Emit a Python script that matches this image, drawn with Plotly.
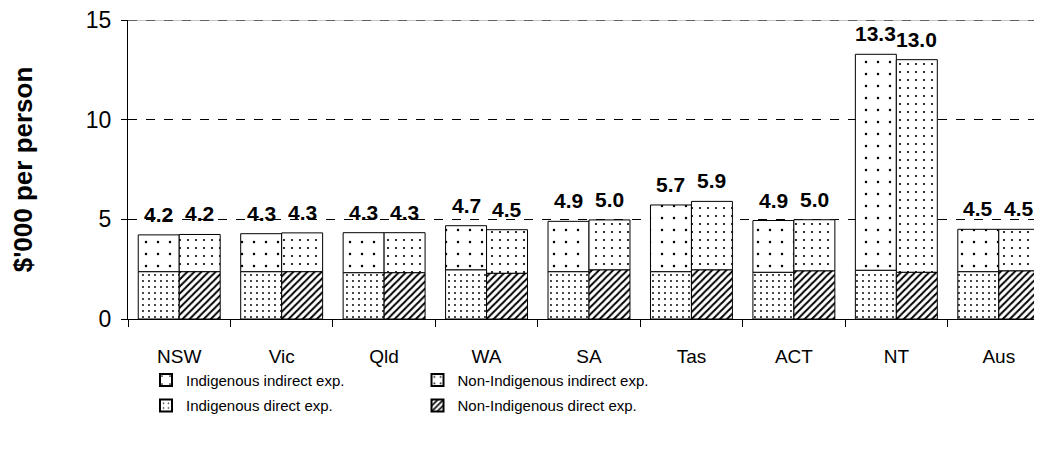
import plotly.graph_objects as go

categories = ["NSW", "Vic", "Qld", "WA", "SA", "Tas", "ACT", "NT", "Aus"]

# $'000 per person
indig_direct = [2.37, 2.37, 2.32, 2.46, 2.37, 2.37, 2.34, 2.44, 2.37]
indig_total = [4.22, 4.28, 4.33, 4.68, 4.90, 5.72, 4.94, 13.28, 4.50]
nonindig_direct = [2.37, 2.37, 2.32, 2.29, 2.46, 2.46, 2.41, 2.34, 2.41]
nonindig_total = [4.24, 4.32, 4.33, 4.48, 4.97, 5.90, 4.98, 13.01, 4.50]

y_ticks = [0, 5, 10, 15]
y_max = 15

indig_indirect = [t - d for t, d in zip(indig_total, indig_direct)]
nonindig_indirect = [t - d for t, d in zip(nonindig_total, nonindig_direct)]

indig_labels = [f"{v:.1f}" for v in indig_total]
nonindig_labels = [f"{v:.1f}" for v in nonindig_total]

ARIAL = "Liberation Sans, Arial, sans-serif"

line = dict(color="black", width=1)

fig = go.Figure()

fig.add_trace(go.Bar(
    x=categories, y=indig_indirect, base=indig_direct,
    name="Indigenous indirect exp.", offsetgroup="I", legend="legend", legendgroup="a",
    marker=dict(color="white", line=line,
                pattern=dict(shape=".", size=12, solidity=0.035,
                             fgcolor="black", bgcolor="white", fillmode="replace")),
))
fig.add_trace(go.Bar(
    x=categories, y=nonindig_indirect, base=nonindig_direct,
    name="Non-Indigenous indirect exp.", offsetgroup="N", legend="legend2", legendgroup="b",
    marker=dict(color="white", line=line,
                pattern=dict(shape=".", size=8, solidity=0.06,
                             fgcolor="black", bgcolor="white", fillmode="replace")),
))
fig.add_trace(go.Bar(
    x=categories, y=indig_direct,
    name="Indigenous direct exp.", offsetgroup="I", legend="legend", legendgroup="c",
    marker=dict(color="white", line=line,
                pattern=dict(shape=".", size=6, solidity=0.08,
                             fgcolor="black", bgcolor="white", fillmode="replace")),
))
fig.add_trace(go.Bar(
    x=categories, y=nonindig_direct,
    name="Non-Indigenous direct exp.", offsetgroup="N", legend="legend2", legendgroup="d",
    marker=dict(color="white", line=line,
                pattern=dict(shape="/", size=5, solidity=0.4,
                             fgcolor="black", bgcolor="white", fillmode="replace")),
))

# value labels above each bar
label_font = dict(family=ARIAL, size=21, color="black", weight="bold")
for cat, tot, lab in zip(categories, indig_total, indig_labels):
    fig.add_annotation(x=cat, y=tot, text=lab, showarrow=False, xref="x", yref="y",
                       xanchor="center", yanchor="bottom", xshift=-20.5, yshift=7,
                       font=label_font)
for cat, tot, lab in zip(categories, nonindig_total, nonindig_labels):
    fig.add_annotation(x=cat, y=tot, text=lab, showarrow=False, xref="x", yref="y",
                       xanchor="center", yanchor="bottom", xshift=20.5, yshift=7,
                       font=label_font)

# top gridline (plotly drops gridlines on the plot edge)
fig.add_shape(type="line", xref="paper", yref="y", x0=0, x1=1, y0=y_max, y1=y_max,
              line=dict(color="#8a8a8a", width=1), layer="above")
fig.add_shape(type="line", xref="paper", yref="y", x0=0, x1=1, y0=y_max, y1=y_max,
              line=dict(color="black", width=1, dash="dash"), layer="above")

legend_common = dict(
    orientation="v", yanchor="top", xanchor="left",
    font=dict(family=ARIAL, size=15, color="black"),
    bgcolor="rgba(0,0,0,0)", tracegroupgap=3, itemsizing="constant",
)

fig.update_layout(
    width=1042, height=459,
    margin=dict(l=120, r=0, t=12, b=148, autoexpand=False),
    paper_bgcolor="white", plot_bgcolor="white",
    barmode="group", bargap=0.2, bargroupgap=0,
    showlegend=True,
    legend=dict(x=0.0195, y=-0.15, **legend_common),
    legend2=dict(x=0.314, y=-0.15, **legend_common),
    xaxis=dict(
        type="category", range=[-0.5, 8.5],
        showline=True, linecolor="black", linewidth=1,
        ticks="outside", tickson="boundaries", ticklen=7, tickcolor="black",
        tickfont=dict(family=ARIAL, size=19, color="black"),
        ticklabelstandoff=20, ticklabeloverflow="allow",
        showgrid=False, zeroline=False, automargin=False,
    ),
    yaxis=dict(
        range=[0, y_max], tickvals=y_ticks,
        showline=True, linecolor="black", linewidth=1,
        ticks="outside", ticklen=6, tickcolor="black",
        tickfont=dict(family=ARIAL, size=23, color="black"),
        ticklabelstandoff=5, ticklabeloverflow="allow",
        showgrid=True, gridcolor="black", gridwidth=1, griddash="dash",
        zeroline=False, automargin=False,
        title=dict(text="$'000 per person", standoff=46,
                   font=dict(family=ARIAL, size=26, color="black", weight="bold")),
    ),
)

fig.write_html("out.html")
